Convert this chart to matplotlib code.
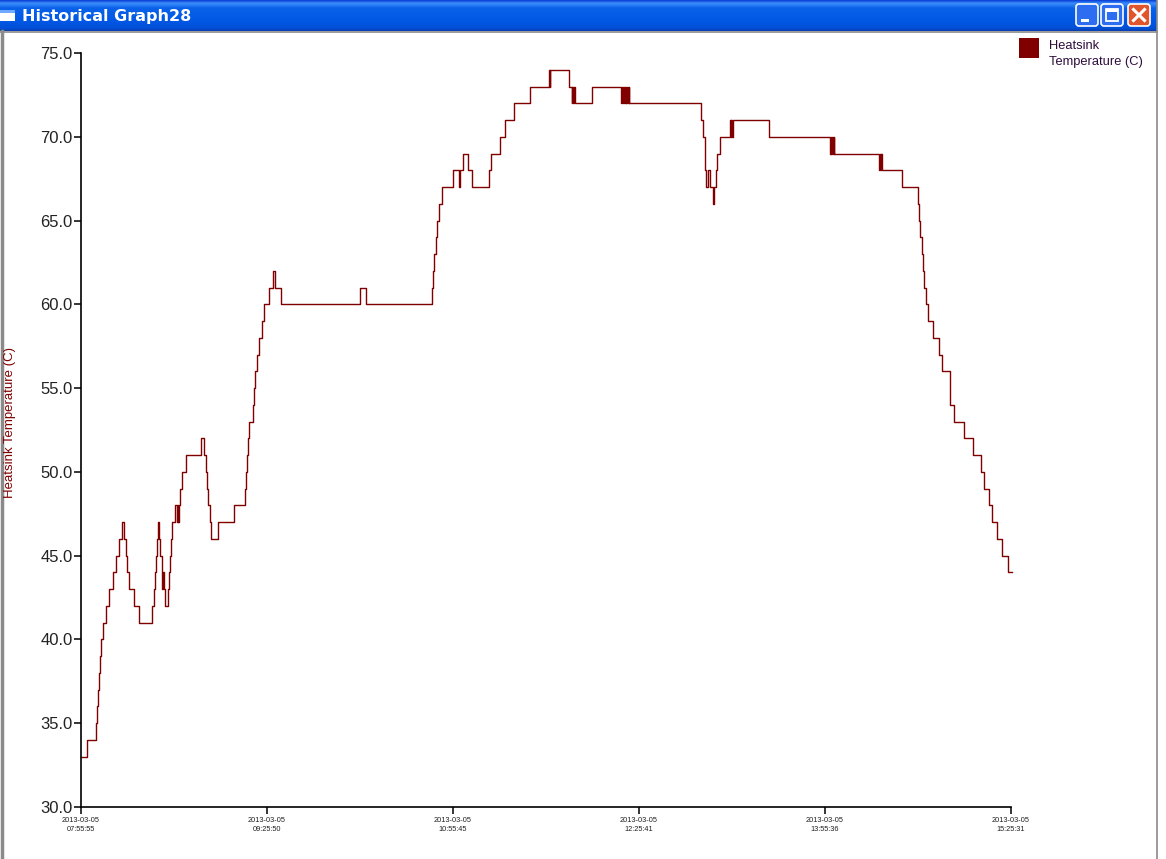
import numpy as np
import pandas as pd
import matplotlib
matplotlib.use("Agg")
import matplotlib.pyplot as plt
import matplotlib.dates as mdates
from matplotlib.colors import LinearSegmentedColormap
from matplotlib.patches import Rectangle, FancyBboxPatch

plt.rcParams["font.family"] = ["Liberation Sans", "DejaVu Sans"]

WINDOW_TITLE = "Historical Graph28"
SERIES_NAME = "Heatsink\nTemperature (C)"
Y_LABEL = "Heatsink Temperature (C)"
START = "2013-03-05 07:55:55"

# minutes after START at which the logged reading changes, and the new reading (C)
step_minutes = [
    0.00, 3.05, 7.11, 7.59, 8.07, 8.56, 9.04, 9.67, 10.64, 12.09,
    13.68, 15.33, 16.92, 18.23, 19.97, 20.79, 21.61, 22.38, 23.06, 25.62,
    28.18, 34.47, 35.44, 35.92, 36.26, 36.74, 37.08, 37.85, 38.34, 39.01,
    39.30, 39.64, 39.98, 40.75, 42.20, 42.45, 43.03, 43.51, 44.14, 45.44,
    46.56, 46.80, 47.04, 47.28, 47.86, 48.83, 50.76, 57.87, 59.61, 60.28,
    60.77, 61.40, 62.36, 62.99, 66.38, 74.11, 79.43, 79.67, 80.11, 80.59,
    81.36, 83.30, 83.78, 84.26, 84.94, 86.20, 87.36, 88.47, 91.03, 92.68,
    93.93, 96.83, 135.02, 137.93, 169.54, 170.03, 170.65, 171.62, 172.25, 173.07,
    174.38, 179.69, 182.89, 183.37, 184.82, 186.95, 189.17, 197.39, 198.21, 202.56,
    205.12, 209.18, 217.21, 226.40, 226.64, 226.88, 236.06, 237.22, 237.51, 237.85,
    238.19, 238.58, 246.89, 261.06, 261.30, 261.54, 261.78, 262.03, 262.27, 262.51,
    262.75, 263.00, 263.24, 263.48, 263.72, 263.96, 264.20, 264.45, 264.69, 264.93,
    299.59, 300.55, 301.52, 301.81, 301.96, 303.26, 304.08, 305.53, 306.16, 306.84,
    307.61, 309.16, 313.75, 314.09, 314.43, 314.72, 315.06, 332.75, 362.10, 362.43,
    362.82, 363.21, 363.55, 363.89, 364.27, 385.93, 386.27, 386.61, 386.90, 387.24,
    397.05, 404.79, 405.27, 405.76, 406.43, 406.91, 407.40, 408.51, 409.62, 412.04,
    414.94, 416.24, 419.96, 420.25, 422.04, 427.02, 431.23, 435.24, 436.69, 438.83,
    440.56, 442.97, 445.39, 448.29, 450.23,
]
step_temps = [
    33, 34, 35, 36, 37, 38, 39, 40, 41, 42,
    43, 44, 45, 46, 47, 46, 45, 44, 43, 42,
    41, 42, 43, 44, 45, 46, 47, 46, 45, 44,
    43, 44, 43, 42, 43, 44, 45, 46, 47, 48,
    47, 48, 47, 48, 49, 50, 51, 52, 51, 50,
    49, 48, 47, 46, 47, 48, 49, 50, 51, 52,
    53, 54, 55, 56, 57, 58, 59, 60, 61, 62,
    61, 60, 61, 60, 61, 62, 63, 64, 65, 66,
    67, 68, 67, 68, 69, 68, 67, 68, 69, 70,
    71, 72, 73, 74, 73, 74, 73, 72, 73, 72,
    73, 72, 73, 72, 73, 72, 73, 72, 73, 72,
    73, 72, 73, 72, 73, 72, 73, 72, 73, 72,
    71, 70, 69, 68, 67, 68, 67, 66, 67, 68,
    69, 70, 71, 70, 71, 70, 71, 70, 69, 70,
    69, 70, 69, 70, 69, 68, 69, 68, 69, 68,
    67, 66, 65, 64, 63, 62, 61, 60, 59, 58,
    57, 56, 55, 54, 53, 52, 51, 50, 49, 48,
    47, 46, 45, 44, 44,
]

tick_labels = [
    "2013-03-05\n07:55:55", "2013-03-05\n09:25:50", "2013-03-05\n10:55:45",
    "2013-03-05\n12:25:41", "2013-03-05\n13:55:36", "2013-03-05\n15:25:31",
]
y_ticks = [30.0, 35.0, 40.0, 45.0, 50.0, 55.0, 60.0, 65.0, 70.0, 75.0]

LINE_COLOR = "#800000"
W, H = 1166, 859

fig = plt.figure(figsize=(W / 100, H / 100), dpi=100)
fig.patch.set_facecolor("white")

# window chrome drawn in pixel space
chrome = fig.add_axes([0, 0, 1, 1], zorder=0)
chrome.set_xlim(0, W)
chrome.set_ylim(H, 0)
chrome.axis("off")

bar_cmap = LinearSegmentedColormap.from_list(
    "xp",
    [(0.0, "#0a3fd6"), (0.1, "#3d8ffc"), (0.25, "#0a62ea"),
     (0.7, "#0057e4"), (0.92, "#0050d6"), (1.0, "#0a3cb0")],
)
grad = np.linspace(0, 1, 64).reshape(-1, 1)
chrome.imshow(grad, cmap=bar_cmap, extent=(0, 1157, 31, 0), aspect="auto", zorder=1)
chrome.add_patch(Rectangle((0, 10), 15, 11, facecolor="white", edgecolor="none", zorder=2))
chrome.add_patch(Rectangle((0, 10), 15, 2.5, facecolor="#6fa8ff", edgecolor="none", zorder=3))
chrome.text(22, 16.5, WINDOW_TITLE, color="white", fontsize=11.5, fontweight="bold",
            family="DejaVu Sans", va="center", ha="left", zorder=3)

for bx, face in [(1076, "#2c6df2"), (1101, "#2c6df2"), (1128, "#e0552c")]:
    chrome.add_patch(FancyBboxPatch((bx, 4), 22, 22, boxstyle="round,pad=0,rounding_size=3",
                                    facecolor=face, edgecolor="white", lw=1.2, zorder=3))
chrome.add_patch(Rectangle((1081, 19), 8, 3, facecolor="white", zorder=4))
chrome.add_patch(Rectangle((1106, 9), 12, 12, facecolor="none", edgecolor="white", lw=1.3, zorder=4))
chrome.add_patch(Rectangle((1106, 9), 12, 2.5, facecolor="white", edgecolor="none", zorder=4))
chrome.plot([1133.5, 1144.5], [9.5, 20.5], color="white", lw=2.2, zorder=4)
chrome.plot([1133.5, 1144.5], [20.5, 9.5], color="white", lw=2.2, zorder=4)

chrome.plot([0, 1157], [31.5, 31.5], color="#8a8a8a", lw=1.2, zorder=2)
chrome.plot([1.5, 1.5], [31, H], color="#8a8a8a", lw=2.5, zorder=2)
chrome.plot([1157, 1157], [0, H], color="#8a8a8a", lw=1.2, zorder=2)

# legend
chrome.add_patch(Rectangle((1019, 38), 20, 20, facecolor=LINE_COLOR, edgecolor="none", zorder=2))
chrome.text(1049, 40, SERIES_NAME, color="#2e0d3c", fontsize=9.3, va="top", ha="left",
            linespacing=1.5, zorder=2)

# the chart itself
start = pd.Timestamp(START)
times = start + pd.to_timedelta(step_minutes, unit="m")
xnum = mdates.date2num(times.to_pydatetime())
tick_times = [pd.Timestamp(t.replace("\n", " ")) for t in tick_labels]
tick_num = mdates.date2num([t.to_pydatetime() for t in tick_times])

ax = fig.add_axes([81 / W, 1 - 807 / H, 930 / W, 754 / H], zorder=1)
ax.patch.set_alpha(0)
ax.step(xnum, step_temps, where="post", color=LINE_COLOR, lw=1.0, clip_on=False)

ax.set_xlim(tick_num[0], tick_num[-1])
ax.set_ylim(y_ticks[0], y_ticks[-1])
ax.set_xticks(tick_num)
ax.set_xticklabels(tick_labels, fontsize=5.3, color="#202020", linespacing=1.45)
ax.set_yticks(y_ticks)
ax.set_yticklabels([f"{v:.1f}" for v in y_ticks], fontsize=12, color="#222222")
ax.tick_params(axis="both", direction="out", length=5, width=1.1, color="black")
ax.tick_params(axis="x", pad=2)
ax.tick_params(axis="y", pad=1)
for side in ("top", "right"):
    ax.spines[side].set_visible(False)
for side in ("left", "bottom"):
    ax.spines[side].set_linewidth(1.2)
    ax.spines[side].set_color("black")

fig.text(10 / W, 1 - 423 / H, Y_LABEL, rotation=90, color=LINE_COLOR, fontsize=9.5,
         va="center", ha="center")

fig.savefig("out.png", dpi=100)
